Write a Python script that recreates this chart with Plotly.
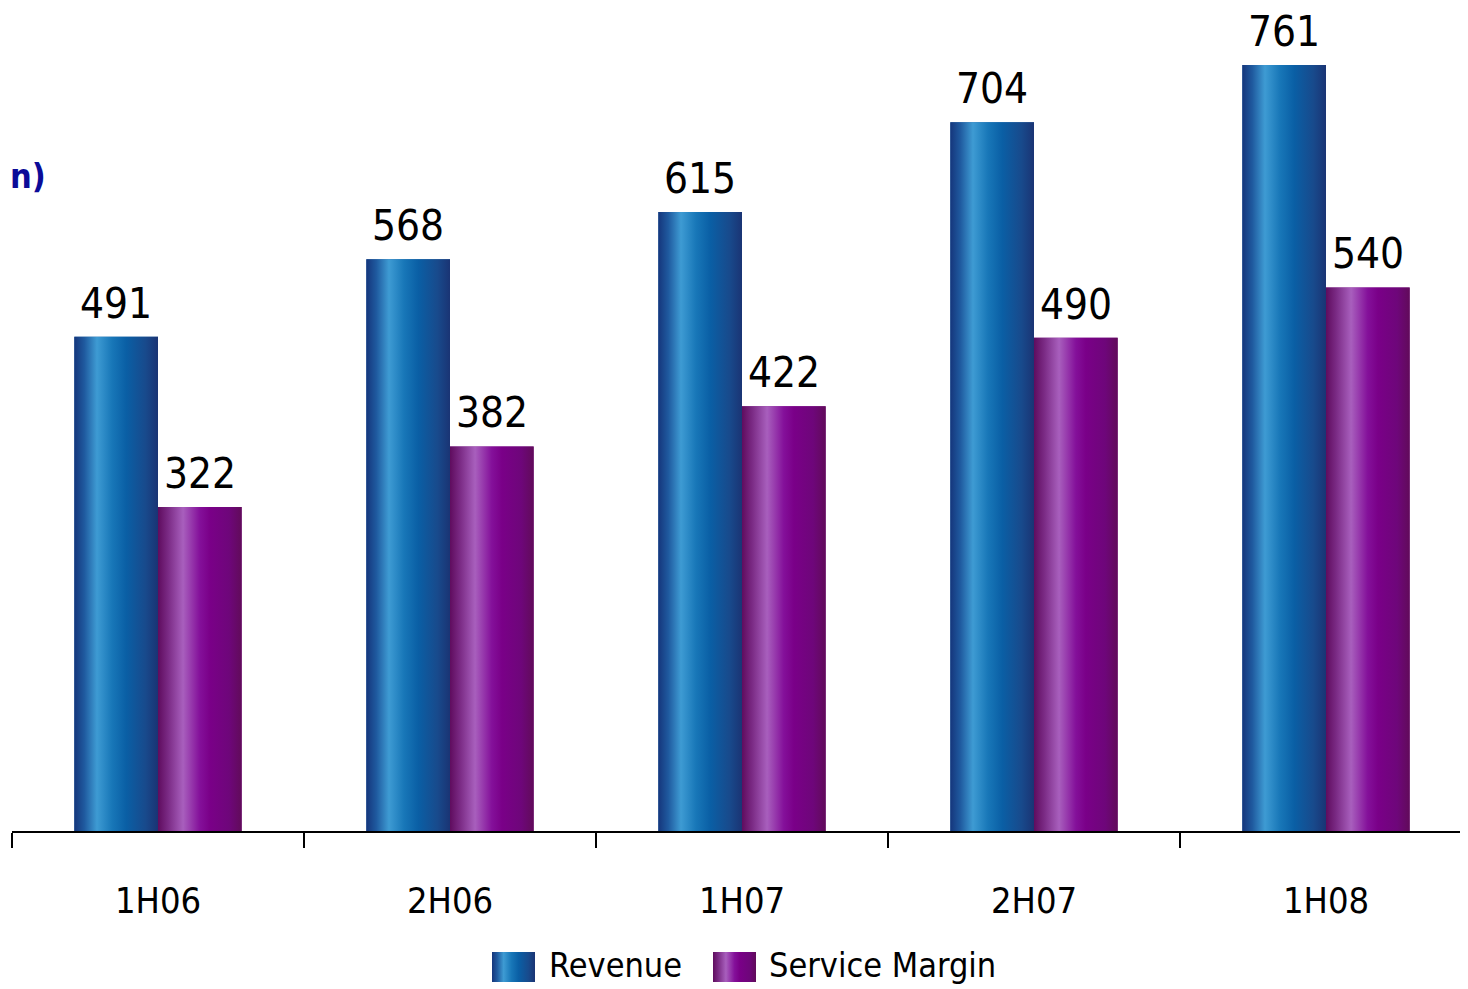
import base64
import plotly.graph_objects as go

# ---- data ----
categories = ["1H06", "2H06", "1H07", "2H07", "1H08"]
revenue = [491, 568, 615, 704, 761]
service_margin = [322, 382, 422, 490, 540]
series_names = ["Revenue", "Service Margin"]

# ---- style ----
FONT = "Liberation Sans Narrow, Arial Narrow, DejaVu Sans Condensed, sans-serif"
rev_scale = [[0.0, "#15367c"], [0.12, "#1f5a9f"], [0.27, "#3e9bd3"], [0.45, "#1877b8"],
             [0.62, "#0a5fa5"], [0.85, "#184a8c"], [1.0, "#1a3474"]]
sm_scale = [[0.0, "#5f0c5e"], [0.12, "#7a2a84"], [0.3, "#a85fbd"], [0.5, "#84109a"],
            [0.62, "#7a0088"], [0.85, "#6e067a"], [1.0, "#610b5a"]]
W = 0.2865
OFF = 8                      # page body margin
W_PX, H_PX = 1468 - OFF, 989 - OFF
ML = 12 - OFF
AXIS_Y = 831 - OFF           # baseline in figure pixels
MB = H_PX - AXIS_Y
plot_w = W_PX - ML
plot_h = AXIS_Y
px_per_cat = 292.0
px_per_unit = 766.0 / 761.0
y_top = plot_h / px_per_unit

x_pos = list(range(len(categories)))
fig = go.Figure()

annotations = []
# base bars
for vals, name, col, off in [(revenue, series_names[0], "#1a5fa5", -W),
                             (service_margin, series_names[1], "#7d1a8a", 0.0)]:
    fig.add_trace(go.Bar(
        x=x_pos, y=vals, name=name, width=W, offset=off,
        marker=dict(color=col, line=dict(width=0)),
        showlegend=False, hoverinfo="skip",
    ))
    for xi, v in zip(x_pos, vals):
        annotations.append(dict(
            text=str(v), x=xi + off + W / 2, y=v, xref="x", yref="y",
            xanchor="center", yanchor="bottom", yshift=7, showarrow=False,
            font=dict(family=FONT, size=42, color="black")))

# gradient overlay for each bar
for vals, scale, off in [(revenue, rev_scale, -W), (service_margin, sm_scale, 0.0)]:
    for xi, v in zip(x_pos, vals):
        x0, x1 = xi + off, xi + off + W
        fig.add_trace(go.Scatter(
            x=[x0, x1, x1, x0, x0], y=[0, 0, v, v, 0],
            mode="none", fill="toself",
            fillgradient=dict(type="horizontal", colorscale=scale),
            showlegend=False, hoverinfo="skip",
        ))


def grad_uri(scale):
    stops = "".join(f"<stop offset='{o}' stop-color='{c}'/>" for o, c in scale)
    svg = ("<svg xmlns='http://www.w3.org/2000/svg' width='100' height='100' "
           "viewBox='0 0 100 100' preserveAspectRatio='none'><defs>"
           f"<linearGradient id='g' x1='0' y1='0' x2='1' y2='0'>{stops}</linearGradient>"
           "</defs><rect width='100' height='100' fill='url(#g)'/></svg>")
    return "data:image/svg+xml;base64," + base64.b64encode(svg.encode()).decode()


def px_x(p):
    # p: reference-page pixel
    return (p - OFF - ML) / plot_w


def px_y(p):
    return (plot_h - (p - OFF)) / plot_h


images = []
for name, scale, kx, tx in [(series_names[0], rev_scale, 492, 547),
                            (series_names[1], sm_scale, 713, 767)]:
    images.append(dict(source=grad_uri(scale), xref="paper", yref="paper",
                       x=px_x(kx), y=px_y(952), sizex=43 / plot_w, sizey=30 / plot_h,
                       xanchor="left", yanchor="top", sizing="stretch", layer="above"))
    annotations.append(dict(text=name, xref="paper", yref="paper", x=px_x(tx), y=px_y(965),
                            xanchor="left", yanchor="middle", showarrow=False,
                            font=dict(family=FONT, size=34, color="black")))

annotations.append(dict(text="<b>n)</b>", xref="paper", yref="paper", x=px_x(OFF), y=px_y(176),
                        xanchor="left", yanchor="middle", showarrow=False,
                        font=dict(family=FONT, size=34, color="#0b0b98")))

fig.update_layout(
    width=W_PX, height=H_PX,
    margin=dict(l=ML, r=0, t=0, b=MB, pad=0),
    plot_bgcolor="white", paper_bgcolor="white",
    barmode="overlay",
    images=images, annotations=annotations,
    xaxis=dict(
        range=[-0.5, -0.5 + plot_w / px_per_cat],
        tickmode="array", tickvals=x_pos, ticktext=categories,
        ticks="", showgrid=False, zeroline=False,
        showline=True, linecolor="black", linewidth=2,
        tickfont=dict(family=FONT, size=36, color="black"),
        ticklabelstandoff=37,
        minor=dict(tickvals=[i - 0.5 for i in range(len(categories) + 1)],
                   ticks="outside", ticklen=15, tickwidth=2, tickcolor="black", showgrid=False),
        fixedrange=True,
    ),
    yaxis=dict(range=[0, y_top], visible=False, fixedrange=True),
)

fig.write_html("out.html")
